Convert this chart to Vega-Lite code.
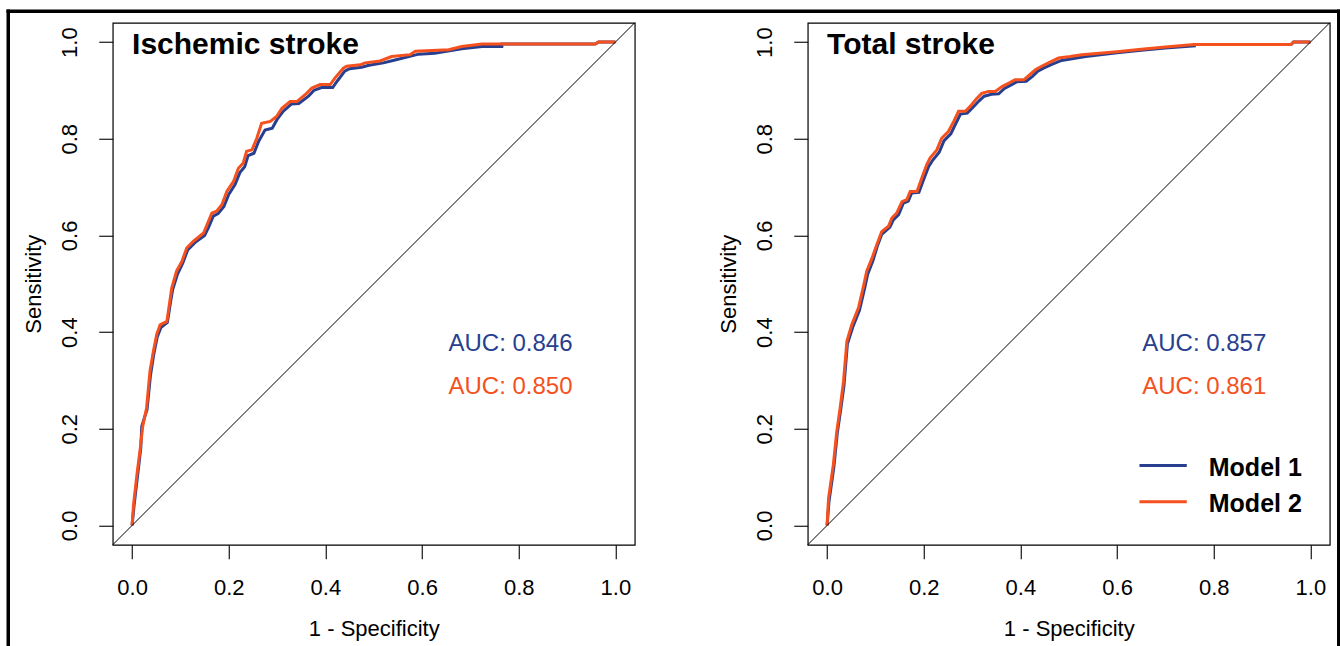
{
"$schema": "https://vega.github.io/schema/vega-lite/v6.json",
"padding": {"left": 4.75, "top": 7.75, "right": 0, "bottom": 0},
"autosize": {"type": "pad"},
"bounds": "flush",
"spacing": 173,
"background": "white",
"config": {
  "font": "Liberation Sans",
  "view": {"stroke": "black", "strokeWidth": 1.2},
  "axis": {
    "grid": false, "domain": false, "tickColor": "black", "tickWidth": 1.1, "tickSize": 14,
    "labelFont": "Liberation Sans", "labelFontSize": 22, "labelColor": "black",
    "titleFont": "Liberation Sans", "titleFontSize": 22, "titleFontWeight": "normal", "titleColor": "black",
    "labelFlush": false, "labelOverlap": false
  },
  "axisX": {"format": ".1f", "labelBaseline": "top", "labelPadding": 19, "titlePadding": 18.4, "minExtent": 55, "maxExtent": 55},
  "axisY": {"format": ".1f", "labelAngle": 270, "labelAlign": "center", "labelBaseline": "alphabetic", "labelPadding": 22, "titlePadding": 17.4, "minExtent": 50, "maxExtent": 50}
},
"datasets": {
  "ischemic": [
    {"model":"Model 1","i":0,"fpr":0,"tpr":0},
    {"model":"Model 1","i":1,"fpr":0.004,"tpr":0.04},
    {"model":"Model 1","i":2,"fpr":0.011,"tpr":0.10},
    {"model":"Model 1","i":3,"fpr":0.018,"tpr":0.16},
    {"model":"Model 1","i":4,"fpr":0.020,"tpr":0.205},
    {"model":"Model 1","i":5,"fpr":0.031,"tpr":0.24},
    {"model":"Model 1","i":6,"fpr":0.038,"tpr":0.31},
    {"model":"Model 1","i":7,"fpr":0.045,"tpr":0.355},
    {"model":"Model 1","i":8,"fpr":0.052,"tpr":0.39},
    {"model":"Model 1","i":9,"fpr":0.060,"tpr":0.41},
    {"model":"Model 1","i":10,"fpr":0.073,"tpr":0.42},
    {"model":"Model 1","i":11,"fpr":0.080,"tpr":0.465},
    {"model":"Model 1","i":12,"fpr":0.084,"tpr":0.488},
    {"model":"Model 1","i":13,"fpr":0.094,"tpr":0.52},
    {"model":"Model 1","i":14,"fpr":0.105,"tpr":0.543},
    {"model":"Model 1","i":15,"fpr":0.115,"tpr":0.57},
    {"model":"Model 1","i":16,"fpr":0.130,"tpr":0.585},
    {"model":"Model 1","i":17,"fpr":0.150,"tpr":0.60},
    {"model":"Model 1","i":18,"fpr":0.158,"tpr":0.616},
    {"model":"Model 1","i":19,"fpr":0.168,"tpr":0.64},
    {"model":"Model 1","i":20,"fpr":0.178,"tpr":0.645},
    {"model":"Model 1","i":21,"fpr":0.190,"tpr":0.66},
    {"model":"Model 1","i":22,"fpr":0.200,"tpr":0.685},
    {"model":"Model 1","i":23,"fpr":0.213,"tpr":0.705},
    {"model":"Model 1","i":24,"fpr":0.223,"tpr":0.73},
    {"model":"Model 1","i":25,"fpr":0.233,"tpr":0.742},
    {"model":"Model 1","i":26,"fpr":0.240,"tpr":0.765},
    {"model":"Model 1","i":27,"fpr":0.252,"tpr":0.77},
    {"model":"Model 1","i":28,"fpr":0.262,"tpr":0.795},
    {"model":"Model 1","i":29,"fpr":0.275,"tpr":0.818},
    {"model":"Model 1","i":30,"fpr":0.290,"tpr":0.822},
    {"model":"Model 1","i":31,"fpr":0.300,"tpr":0.84},
    {"model":"Model 1","i":32,"fpr":0.313,"tpr":0.857},
    {"model":"Model 1","i":33,"fpr":0.330,"tpr":0.872},
    {"model":"Model 1","i":34,"fpr":0.345,"tpr":0.873},
    {"model":"Model 1","i":35,"fpr":0.365,"tpr":0.888},
    {"model":"Model 1","i":36,"fpr":0.376,"tpr":0.90},
    {"model":"Model 1","i":37,"fpr":0.392,"tpr":0.906},
    {"model":"Model 1","i":38,"fpr":0.415,"tpr":0.906},
    {"model":"Model 1","i":39,"fpr":0.425,"tpr":0.92},
    {"model":"Model 1","i":40,"fpr":0.440,"tpr":0.94},
    {"model":"Model 1","i":41,"fpr":0.450,"tpr":0.945},
    {"model":"Model 1","i":42,"fpr":0.475,"tpr":0.948},
    {"model":"Model 1","i":43,"fpr":0.490,"tpr":0.952},
    {"model":"Model 1","i":44,"fpr":0.520,"tpr":0.957},
    {"model":"Model 1","i":45,"fpr":0.544,"tpr":0.963},
    {"model":"Model 1","i":46,"fpr":0.593,"tpr":0.975},
    {"model":"Model 1","i":47,"fpr":0.626,"tpr":0.977},
    {"model":"Model 1","i":48,"fpr":0.682,"tpr":0.986},
    {"model":"Model 1","i":49,"fpr":0.724,"tpr":0.991},
    {"model":"Model 1","i":50,"fpr":0.765,"tpr":0.991},
    {"model":"Model 1","i":51,"fpr":0.765,"tpr":0.996},
    {"model":"Model 1","i":52,"fpr":0.958,"tpr":0.996},
    {"model":"Model 1","i":53,"fpr":0.965,"tpr":1.0},
    {"model":"Model 1","i":54,"fpr":1.0,"tpr":1.0},
    {"model":"Model 2","i":0,"fpr":0,"tpr":0},
    {"model":"Model 2","i":1,"fpr":0.003,"tpr":0.043},
    {"model":"Model 2","i":2,"fpr":0.010,"tpr":0.105},
    {"model":"Model 2","i":3,"fpr":0.017,"tpr":0.16},
    {"model":"Model 2","i":4,"fpr":0.022,"tpr":0.205},
    {"model":"Model 2","i":5,"fpr":0.030,"tpr":0.243},
    {"model":"Model 2","i":6,"fpr":0.037,"tpr":0.319},
    {"model":"Model 2","i":7,"fpr":0.044,"tpr":0.36},
    {"model":"Model 2","i":8,"fpr":0.051,"tpr":0.395},
    {"model":"Model 2","i":9,"fpr":0.058,"tpr":0.415},
    {"model":"Model 2","i":10,"fpr":0.072,"tpr":0.422},
    {"model":"Model 2","i":11,"fpr":0.079,"tpr":0.47},
    {"model":"Model 2","i":12,"fpr":0.082,"tpr":0.491},
    {"model":"Model 2","i":13,"fpr":0.092,"tpr":0.526},
    {"model":"Model 2","i":14,"fpr":0.103,"tpr":0.546},
    {"model":"Model 2","i":15,"fpr":0.113,"tpr":0.574},
    {"model":"Model 2","i":16,"fpr":0.127,"tpr":0.588},
    {"model":"Model 2","i":17,"fpr":0.148,"tpr":0.605},
    {"model":"Model 2","i":18,"fpr":0.155,"tpr":0.622},
    {"model":"Model 2","i":19,"fpr":0.165,"tpr":0.646},
    {"model":"Model 2","i":20,"fpr":0.175,"tpr":0.65},
    {"model":"Model 2","i":21,"fpr":0.186,"tpr":0.664},
    {"model":"Model 2","i":22,"fpr":0.196,"tpr":0.691},
    {"model":"Model 2","i":23,"fpr":0.210,"tpr":0.712},
    {"model":"Model 2","i":24,"fpr":0.220,"tpr":0.739},
    {"model":"Model 2","i":25,"fpr":0.230,"tpr":0.75},
    {"model":"Model 2","i":26,"fpr":0.237,"tpr":0.774},
    {"model":"Model 2","i":27,"fpr":0.248,"tpr":0.777},
    {"model":"Model 2","i":28,"fpr":0.258,"tpr":0.801},
    {"model":"Model 2","i":29,"fpr":0.268,"tpr":0.832},
    {"model":"Model 2","i":30,"fpr":0.286,"tpr":0.836},
    {"model":"Model 2","i":31,"fpr":0.299,"tpr":0.846},
    {"model":"Model 2","i":32,"fpr":0.310,"tpr":0.863},
    {"model":"Model 2","i":33,"fpr":0.327,"tpr":0.877},
    {"model":"Model 2","i":34,"fpr":0.341,"tpr":0.877},
    {"model":"Model 2","i":35,"fpr":0.361,"tpr":0.894},
    {"model":"Model 2","i":36,"fpr":0.372,"tpr":0.905},
    {"model":"Model 2","i":37,"fpr":0.389,"tpr":0.912},
    {"model":"Model 2","i":38,"fpr":0.410,"tpr":0.912},
    {"model":"Model 2","i":39,"fpr":0.420,"tpr":0.926},
    {"model":"Model 2","i":40,"fpr":0.437,"tpr":0.946},
    {"model":"Model 2","i":41,"fpr":0.444,"tpr":0.95},
    {"model":"Model 2","i":42,"fpr":0.472,"tpr":0.953},
    {"model":"Model 2","i":43,"fpr":0.482,"tpr":0.957},
    {"model":"Model 2","i":44,"fpr":0.513,"tpr":0.961},
    {"model":"Model 2","i":45,"fpr":0.537,"tpr":0.970},
    {"model":"Model 2","i":46,"fpr":0.575,"tpr":0.974},
    {"model":"Model 2","i":47,"fpr":0.586,"tpr":0.981},
    {"model":"Model 2","i":48,"fpr":0.655,"tpr":0.984},
    {"model":"Model 2","i":49,"fpr":0.682,"tpr":0.991},
    {"model":"Model 2","i":50,"fpr":0.724,"tpr":0.996},
    {"model":"Model 2","i":51,"fpr":0.958,"tpr":0.996},
    {"model":"Model 2","i":52,"fpr":0.965,"tpr":1.0},
    {"model":"Model 2","i":53,"fpr":1.0,"tpr":1.0}
  ],
  "total": [
    {"model":"Model 1","i":0,"fpr":0,"tpr":0},
    {"model":"Model 1","i":1,"fpr":0.004,"tpr":0.05},
    {"model":"Model 1","i":2,"fpr":0.014,"tpr":0.12},
    {"model":"Model 1","i":3,"fpr":0.021,"tpr":0.19},
    {"model":"Model 1","i":4,"fpr":0.028,"tpr":0.238},
    {"model":"Model 1","i":5,"fpr":0.035,"tpr":0.29},
    {"model":"Model 1","i":6,"fpr":0.042,"tpr":0.375},
    {"model":"Model 1","i":7,"fpr":0.053,"tpr":0.41},
    {"model":"Model 1","i":8,"fpr":0.067,"tpr":0.445},
    {"model":"Model 1","i":9,"fpr":0.078,"tpr":0.492},
    {"model":"Model 1","i":10,"fpr":0.084,"tpr":0.52},
    {"model":"Model 1","i":11,"fpr":0.095,"tpr":0.548},
    {"model":"Model 1","i":12,"fpr":0.104,"tpr":0.578},
    {"model":"Model 1","i":13,"fpr":0.113,"tpr":0.602},
    {"model":"Model 1","i":14,"fpr":0.130,"tpr":0.617},
    {"model":"Model 1","i":15,"fpr":0.137,"tpr":0.632},
    {"model":"Model 1","i":16,"fpr":0.148,"tpr":0.643},
    {"model":"Model 1","i":17,"fpr":0.158,"tpr":0.667},
    {"model":"Model 1","i":18,"fpr":0.168,"tpr":0.671},
    {"model":"Model 1","i":19,"fpr":0.175,"tpr":0.688},
    {"model":"Model 1","i":20,"fpr":0.190,"tpr":0.689},
    {"model":"Model 1","i":21,"fpr":0.200,"tpr":0.716},
    {"model":"Model 1","i":22,"fpr":0.210,"tpr":0.742},
    {"model":"Model 1","i":23,"fpr":0.218,"tpr":0.755},
    {"model":"Model 1","i":24,"fpr":0.232,"tpr":0.772},
    {"model":"Model 1","i":25,"fpr":0.242,"tpr":0.796},
    {"model":"Model 1","i":26,"fpr":0.256,"tpr":0.81},
    {"model":"Model 1","i":27,"fpr":0.266,"tpr":0.831},
    {"model":"Model 1","i":28,"fpr":0.276,"tpr":0.851},
    {"model":"Model 1","i":29,"fpr":0.290,"tpr":0.853},
    {"model":"Model 1","i":30,"fpr":0.300,"tpr":0.863},
    {"model":"Model 1","i":31,"fpr":0.314,"tpr":0.878},
    {"model":"Model 1","i":32,"fpr":0.325,"tpr":0.888},
    {"model":"Model 1","i":33,"fpr":0.340,"tpr":0.892},
    {"model":"Model 1","i":34,"fpr":0.355,"tpr":0.893},
    {"model":"Model 1","i":35,"fpr":0.367,"tpr":0.904},
    {"model":"Model 1","i":36,"fpr":0.380,"tpr":0.911},
    {"model":"Model 1","i":37,"fpr":0.393,"tpr":0.918},
    {"model":"Model 1","i":38,"fpr":0.412,"tpr":0.919},
    {"model":"Model 1","i":39,"fpr":0.425,"tpr":0.929},
    {"model":"Model 1","i":40,"fpr":0.436,"tpr":0.94},
    {"model":"Model 1","i":41,"fpr":0.450,"tpr":0.947},
    {"model":"Model 1","i":42,"fpr":0.465,"tpr":0.954},
    {"model":"Model 1","i":43,"fpr":0.485,"tpr":0.962},
    {"model":"Model 1","i":44,"fpr":0.510,"tpr":0.966},
    {"model":"Model 1","i":45,"fpr":0.535,"tpr":0.97},
    {"model":"Model 1","i":46,"fpr":0.600,"tpr":0.978},
    {"model":"Model 1","i":47,"fpr":0.650,"tpr":0.983},
    {"model":"Model 1","i":48,"fpr":0.700,"tpr":0.988},
    {"model":"Model 1","i":49,"fpr":0.760,"tpr":0.992},
    {"model":"Model 1","i":50,"fpr":0.760,"tpr":0.995},
    {"model":"Model 1","i":51,"fpr":0.960,"tpr":0.995},
    {"model":"Model 1","i":52,"fpr":0.965,"tpr":1.0},
    {"model":"Model 1","i":53,"fpr":1.0,"tpr":1.0},
    {"model":"Model 2","i":0,"fpr":0,"tpr":0},
    {"model":"Model 2","i":1,"fpr":0.003,"tpr":0.056},
    {"model":"Model 2","i":2,"fpr":0.013,"tpr":0.126},
    {"model":"Model 2","i":3,"fpr":0.020,"tpr":0.194},
    {"model":"Model 2","i":4,"fpr":0.027,"tpr":0.243},
    {"model":"Model 2","i":5,"fpr":0.034,"tpr":0.298},
    {"model":"Model 2","i":6,"fpr":0.041,"tpr":0.381},
    {"model":"Model 2","i":7,"fpr":0.051,"tpr":0.415},
    {"model":"Model 2","i":8,"fpr":0.065,"tpr":0.45},
    {"model":"Model 2","i":9,"fpr":0.076,"tpr":0.498},
    {"model":"Model 2","i":10,"fpr":0.082,"tpr":0.526},
    {"model":"Model 2","i":11,"fpr":0.093,"tpr":0.553},
    {"model":"Model 2","i":12,"fpr":0.103,"tpr":0.581},
    {"model":"Model 2","i":13,"fpr":0.113,"tpr":0.608},
    {"model":"Model 2","i":14,"fpr":0.127,"tpr":0.619},
    {"model":"Model 2","i":15,"fpr":0.134,"tpr":0.636},
    {"model":"Model 2","i":16,"fpr":0.144,"tpr":0.646},
    {"model":"Model 2","i":17,"fpr":0.155,"tpr":0.67},
    {"model":"Model 2","i":18,"fpr":0.165,"tpr":0.674},
    {"model":"Model 2","i":19,"fpr":0.172,"tpr":0.691},
    {"model":"Model 2","i":20,"fpr":0.186,"tpr":0.691},
    {"model":"Model 2","i":21,"fpr":0.196,"tpr":0.719},
    {"model":"Model 2","i":22,"fpr":0.206,"tpr":0.746},
    {"model":"Model 2","i":23,"fpr":0.213,"tpr":0.76},
    {"model":"Model 2","i":24,"fpr":0.227,"tpr":0.777},
    {"model":"Model 2","i":25,"fpr":0.237,"tpr":0.801},
    {"model":"Model 2","i":26,"fpr":0.251,"tpr":0.815},
    {"model":"Model 2","i":27,"fpr":0.262,"tpr":0.836},
    {"model":"Model 2","i":28,"fpr":0.272,"tpr":0.857},
    {"model":"Model 2","i":29,"fpr":0.286,"tpr":0.857},
    {"model":"Model 2","i":30,"fpr":0.296,"tpr":0.867},
    {"model":"Model 2","i":31,"fpr":0.310,"tpr":0.884},
    {"model":"Model 2","i":32,"fpr":0.320,"tpr":0.894},
    {"model":"Model 2","i":33,"fpr":0.334,"tpr":0.898},
    {"model":"Model 2","i":34,"fpr":0.348,"tpr":0.898},
    {"model":"Model 2","i":35,"fpr":0.362,"tpr":0.908},
    {"model":"Model 2","i":36,"fpr":0.376,"tpr":0.915},
    {"model":"Model 2","i":37,"fpr":0.389,"tpr":0.922},
    {"model":"Model 2","i":38,"fpr":0.407,"tpr":0.922},
    {"model":"Model 2","i":39,"fpr":0.420,"tpr":0.933},
    {"model":"Model 2","i":40,"fpr":0.431,"tpr":0.943},
    {"model":"Model 2","i":41,"fpr":0.444,"tpr":0.95},
    {"model":"Model 2","i":42,"fpr":0.458,"tpr":0.957},
    {"model":"Model 2","i":43,"fpr":0.479,"tpr":0.967},
    {"model":"Model 2","i":44,"fpr":0.503,"tpr":0.97},
    {"model":"Model 2","i":45,"fpr":0.527,"tpr":0.974},
    {"model":"Model 2","i":46,"fpr":0.600,"tpr":0.98},
    {"model":"Model 2","i":47,"fpr":0.650,"tpr":0.985},
    {"model":"Model 2","i":48,"fpr":0.700,"tpr":0.99},
    {"model":"Model 2","i":49,"fpr":0.760,"tpr":0.995},
    {"model":"Model 2","i":50,"fpr":0.960,"tpr":0.995},
    {"model":"Model 2","i":51,"fpr":0.965,"tpr":1.0},
    {"model":"Model 2","i":52,"fpr":1.0,"tpr":1.0}
  ]
},
"hconcat": [
  {
    "width": 522, "height": 522,
    "layer": [
      {"data": {"name": "ischemic"}, "mark": {"type": "line", "strokeWidth": 3},
       "encoding": {
         "x": {"field": "fpr", "type": "quantitative", "title": "1 - Specificity", "axis": {"values": [0, 0.2, 0.4, 0.6, 0.8, 1]}, "scale": {"domain": [-0.04, 1.04], "nice": false, "zero": false}},
         "y": {"field": "tpr", "type": "quantitative", "title": "Sensitivity", "axis": {"values": [0, 0.2, 0.4, 0.6, 0.8, 1]}, "scale": {"domain": [-0.04, 1.04], "nice": false, "zero": false}},
         "color": {"field": "model", "type": "nominal", "scale": {"domain": ["Model 1", "Model 2"], "range": ["#283F8F", "#F4511E"]}, "legend": null},
         "order": {"field": "i", "type": "quantitative"}
       }},
      {"data": {"values": [{}]}, "mark": {"type": "rule", "color": "black", "strokeWidth": 3.5, "strokeCap": "square"},
       "encoding": {
         "x": {"datum": -0.2562, "type": "quantitative", "title": "1 - Specificity", "axis": {"values": [0, 0.2, 0.4, 0.6, 0.8, 1]}, "scale": {"domain": [-0.04, 1.04], "nice": false, "zero": false}},
         "y": {"datum": -0.247, "type": "quantitative", "title": "Sensitivity", "axis": {"values": [0, 0.2, 0.4, 0.6, 0.8, 1]}, "scale": {"domain": [-0.04, 1.04], "nice": false, "zero": false}},
         "y2": {"datum": 1.0638}
       }},
      {"data": {"values": [{}]}, "mark": {"type": "rule", "color": "black", "strokeWidth": 3.5, "strokeCap": "square"},
       "encoding": {
         "x": {"datum": -0.2562, "type": "quantitative", "title": "1 - Specificity", "axis": {"values": [0, 0.2, 0.4, 0.6, 0.8, 1]}, "scale": {"domain": [-0.04, 1.04], "nice": false, "zero": false}},
         "x2": {"datum": 2.4966},
         "y": {"datum": 1.0638, "type": "quantitative", "title": "Sensitivity", "axis": {"values": [0, 0.2, 0.4, 0.6, 0.8, 1]}, "scale": {"domain": [-0.04, 1.04], "nice": false, "zero": false}}
       }},
      {"data": {"values": [{}]}, "mark": {"type": "rule", "color": "black", "strokeWidth": 3.5, "strokeCap": "square"},
       "encoding": {
         "x": {"datum": 2.4966, "type": "quantitative", "title": "1 - Specificity", "axis": {"values": [0, 0.2, 0.4, 0.6, 0.8, 1]}, "scale": {"domain": [-0.04, 1.04], "nice": false, "zero": false}},
         "y": {"datum": -0.247, "type": "quantitative", "title": "Sensitivity", "axis": {"values": [0, 0.2, 0.4, 0.6, 0.8, 1]}, "scale": {"domain": [-0.04, 1.04], "nice": false, "zero": false}},
         "y2": {"datum": 1.0638}
       }},
      {"data": {"values": [{}]}, "mark": {"type": "rule", "color": "black", "strokeWidth": 1},
       "encoding": {
         "x": {"datum": -0.04, "type": "quantitative", "title": "1 - Specificity", "axis": {"values": [0, 0.2, 0.4, 0.6, 0.8, 1]}, "scale": {"domain": [-0.04, 1.04], "nice": false, "zero": false}},
         "y": {"datum": -0.04, "type": "quantitative", "title": "Sensitivity", "axis": {"values": [0, 0.2, 0.4, 0.6, 0.8, 1]}, "scale": {"domain": [-0.04, 1.04], "nice": false, "zero": false}},
         "x2": {"datum": 1.04},
         "y2": {"datum": 1.04}
       }},
      {"data": {"values": [{}]}, "mark": {"type": "text", "font": "Liberation Sans", "fontWeight": "bold", "fontSize": 30, "align": "left", "baseline": "alphabetic", "color": "black"},
       "encoding": {
         "x": {"datum": 0, "type": "quantitative", "title": "1 - Specificity", "axis": {"values": [0, 0.2, 0.4, 0.6, 0.8, 1]}, "scale": {"domain": [-0.04, 1.04], "nice": false, "zero": false}},
         "y": {"datum": 0.976, "type": "quantitative", "title": "Sensitivity", "axis": {"values": [0, 0.2, 0.4, 0.6, 0.8, 1]}, "scale": {"domain": [-0.04, 1.04], "nice": false, "zero": false}},
         "text": {"value": "Ischemic stroke"}
       }},
      {"data": {"values": [{}]}, "mark": {"type": "text", "font": "Liberation Sans", "fontSize": 24, "align": "left", "baseline": "alphabetic", "color": "#283F8F"},
       "encoding": {
         "x": {"datum": 0.6546, "type": "quantitative", "title": "1 - Specificity", "axis": {"values": [0, 0.2, 0.4, 0.6, 0.8, 1]}, "scale": {"domain": [-0.04, 1.04], "nice": false, "zero": false}},
         "y": {"datum": 0.3608, "type": "quantitative", "title": "Sensitivity", "axis": {"values": [0, 0.2, 0.4, 0.6, 0.8, 1]}, "scale": {"domain": [-0.04, 1.04], "nice": false, "zero": false}},
         "text": {"value": "AUC: 0.846"}
       }},
      {"data": {"values": [{}]}, "mark": {"type": "text", "font": "Liberation Sans", "fontSize": 24, "align": "left", "baseline": "alphabetic", "color": "#F4511E"},
       "encoding": {
         "x": {"datum": 0.6546, "type": "quantitative", "title": "1 - Specificity", "axis": {"values": [0, 0.2, 0.4, 0.6, 0.8, 1]}, "scale": {"domain": [-0.04, 1.04], "nice": false, "zero": false}},
         "y": {"datum": 0.271, "type": "quantitative", "title": "Sensitivity", "axis": {"values": [0, 0.2, 0.4, 0.6, 0.8, 1]}, "scale": {"domain": [-0.04, 1.04], "nice": false, "zero": false}},
         "text": {"value": "AUC: 0.850"}
       }}
    ]
  },
  {
    "width": 522, "height": 522,
    "layer": [
      {"data": {"name": "total"}, "mark": {"type": "line", "strokeWidth": 3},
       "encoding": {
         "x": {"field": "fpr", "type": "quantitative", "title": "1 - Specificity", "axis": {"values": [0, 0.2, 0.4, 0.6, 0.8, 1]}, "scale": {"domain": [-0.04, 1.04], "nice": false, "zero": false}},
         "y": {"field": "tpr", "type": "quantitative", "title": "Sensitivity", "axis": {"values": [0, 0.2, 0.4, 0.6, 0.8, 1]}, "scale": {"domain": [-0.04, 1.04], "nice": false, "zero": false}},
         "color": {"field": "model", "type": "nominal", "scale": {"domain": ["Model 1", "Model 2"], "range": ["#283F8F", "#F4511E"]}, "legend": null},
         "order": {"field": "i", "type": "quantitative"}
       }},
      {"data": {"values": [{}]}, "mark": {"type": "rule", "color": "black", "strokeWidth": 1},
       "encoding": {
         "x": {"datum": -0.04, "type": "quantitative", "title": "1 - Specificity", "axis": {"values": [0, 0.2, 0.4, 0.6, 0.8, 1]}, "scale": {"domain": [-0.04, 1.04], "nice": false, "zero": false}},
         "y": {"datum": -0.04, "type": "quantitative", "title": "Sensitivity", "axis": {"values": [0, 0.2, 0.4, 0.6, 0.8, 1]}, "scale": {"domain": [-0.04, 1.04], "nice": false, "zero": false}},
         "x2": {"datum": 1.04},
         "y2": {"datum": 1.04}
       }},
      {"data": {"values": [{}]}, "mark": {"type": "text", "font": "Liberation Sans", "fontWeight": "bold", "fontSize": 30, "align": "left", "baseline": "alphabetic", "color": "black"},
       "encoding": {
         "x": {"datum": 0, "type": "quantitative", "title": "1 - Specificity", "axis": {"values": [0, 0.2, 0.4, 0.6, 0.8, 1]}, "scale": {"domain": [-0.04, 1.04], "nice": false, "zero": false}},
         "y": {"datum": 0.976, "type": "quantitative", "title": "Sensitivity", "axis": {"values": [0, 0.2, 0.4, 0.6, 0.8, 1]}, "scale": {"domain": [-0.04, 1.04], "nice": false, "zero": false}},
         "text": {"value": "Total stroke"}
       }},
      {"data": {"values": [{}]}, "mark": {"type": "text", "font": "Liberation Sans", "fontSize": 24, "align": "left", "baseline": "alphabetic", "color": "#283F8F"},
       "encoding": {
         "x": {"datum": 0.652, "type": "quantitative", "title": "1 - Specificity", "axis": {"values": [0, 0.2, 0.4, 0.6, 0.8, 1]}, "scale": {"domain": [-0.04, 1.04], "nice": false, "zero": false}},
         "y": {"datum": 0.3608, "type": "quantitative", "title": "Sensitivity", "axis": {"values": [0, 0.2, 0.4, 0.6, 0.8, 1]}, "scale": {"domain": [-0.04, 1.04], "nice": false, "zero": false}},
         "text": {"value": "AUC: 0.857"}
       }},
      {"data": {"values": [{}]}, "mark": {"type": "text", "font": "Liberation Sans", "fontSize": 24, "align": "left", "baseline": "alphabetic", "color": "#F4511E"},
       "encoding": {
         "x": {"datum": 0.652, "type": "quantitative", "title": "1 - Specificity", "axis": {"values": [0, 0.2, 0.4, 0.6, 0.8, 1]}, "scale": {"domain": [-0.04, 1.04], "nice": false, "zero": false}},
         "y": {"datum": 0.271, "type": "quantitative", "title": "Sensitivity", "axis": {"values": [0, 0.2, 0.4, 0.6, 0.8, 1]}, "scale": {"domain": [-0.04, 1.04], "nice": false, "zero": false}},
         "text": {"value": "AUC: 0.861"}
       }},
      {"data": {"values": [{}]}, "mark": {"type": "rule", "color": "#283F8F", "strokeWidth": 3},
       "encoding": {
         "x": {"datum": 0.6463, "type": "quantitative", "title": "1 - Specificity", "axis": {"values": [0, 0.2, 0.4, 0.6, 0.8, 1]}, "scale": {"domain": [-0.04, 1.04], "nice": false, "zero": false}},
         "x2": {"datum": 0.7442},
         "y": {"datum": 0.1241, "type": "quantitative", "title": "Sensitivity", "axis": {"values": [0, 0.2, 0.4, 0.6, 0.8, 1]}, "scale": {"domain": [-0.04, 1.04], "nice": false, "zero": false}}
       }},
      {"data": {"values": [{}]}, "mark": {"type": "rule", "color": "#F4511E", "strokeWidth": 3},
       "encoding": {
         "x": {"datum": 0.6463, "type": "quantitative", "title": "1 - Specificity", "axis": {"values": [0, 0.2, 0.4, 0.6, 0.8, 1]}, "scale": {"domain": [-0.04, 1.04], "nice": false, "zero": false}},
         "x2": {"datum": 0.7442},
         "y": {"datum": 0.049, "type": "quantitative", "title": "Sensitivity", "axis": {"values": [0, 0.2, 0.4, 0.6, 0.8, 1]}, "scale": {"domain": [-0.04, 1.04], "nice": false, "zero": false}}
       }},
      {"data": {"values": [{}]}, "mark": {"type": "text", "font": "Liberation Sans", "fontWeight": "bold", "fontSize": 25, "align": "left", "baseline": "alphabetic", "color": "black"},
       "encoding": {
         "x": {"datum": 0.7897, "type": "quantitative", "title": "1 - Specificity", "axis": {"values": [0, 0.2, 0.4, 0.6, 0.8, 1]}, "scale": {"domain": [-0.04, 1.04], "nice": false, "zero": false}},
         "y": {"datum": 0.1028, "type": "quantitative", "title": "Sensitivity", "axis": {"values": [0, 0.2, 0.4, 0.6, 0.8, 1]}, "scale": {"domain": [-0.04, 1.04], "nice": false, "zero": false}},
         "text": {"value": "Model 1"}
       }},
      {"data": {"values": [{}]}, "mark": {"type": "text", "font": "Liberation Sans", "fontWeight": "bold", "fontSize": 25, "align": "left", "baseline": "alphabetic", "color": "black"},
       "encoding": {
         "x": {"datum": 0.7897, "type": "quantitative", "title": "1 - Specificity", "axis": {"values": [0, 0.2, 0.4, 0.6, 0.8, 1]}, "scale": {"domain": [-0.04, 1.04], "nice": false, "zero": false}},
         "y": {"datum": 0.0283, "type": "quantitative", "title": "Sensitivity", "axis": {"values": [0, 0.2, 0.4, 0.6, 0.8, 1]}, "scale": {"domain": [-0.04, 1.04], "nice": false, "zero": false}},
         "text": {"value": "Model 2"}
       }}
    ]
  }
]
}
